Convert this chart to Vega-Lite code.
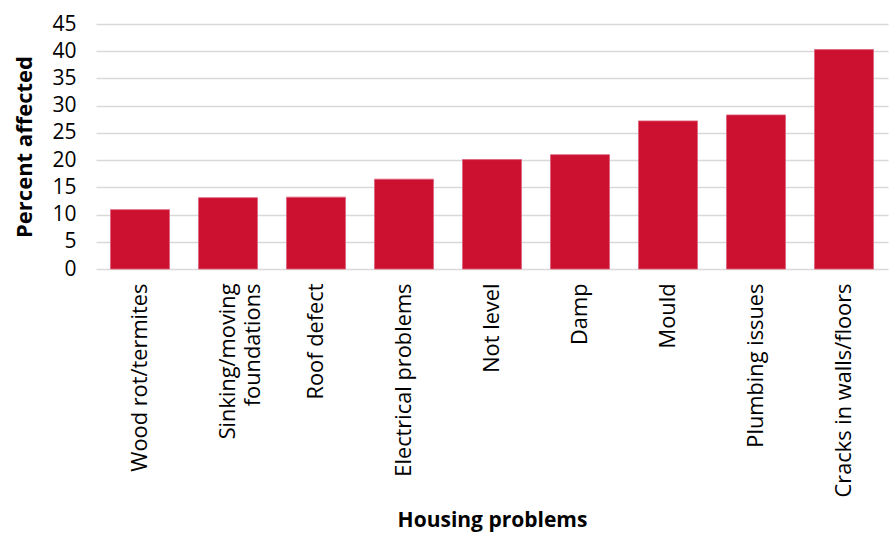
{
  "$schema": "https://vega.github.io/schema/vega-lite/v6.json",
  "width": 792,
  "height": 245,
  "autosize": {"type": "none"},
  "padding": {"left": 96, "top": 24, "right": 2, "bottom": 265},
  "background": "white",
  "data": {"values": [
    {"problem": "Wood rot/termites", "pct": 10.9},
    {"problem": "Sinking/moving foundations", "pct": 13.1},
    {"problem": "Roof defect", "pct": 13.2},
    {"problem": "Electrical problems", "pct": 16.5},
    {"problem": "Not level", "pct": 20.1},
    {"problem": "Damp", "pct": 21.0},
    {"problem": "Mould", "pct": 27.2},
    {"problem": "Plumbing issues", "pct": 28.3},
    {"problem": "Cracks in walls/floors", "pct": 40.3}
  ]},
  "mark": {"type": "bar", "color": "#cc1030", "stroke": "#e0607a", "strokeWidth": 0.8},
  "encoding": {
    "x": {
      "field": "problem", "type": "nominal", "sort": null,
      "scale": {"paddingInner": 0.33, "paddingOuter": 0.165},
      "axis": {
        "title": "Housing problems",
        "titleFont": "Open Sans", "titleFontSize": 21, "titleFontWeight": "bold", "titleColor": "#000",
        "titleY": 240, "titleBaseline": "top",
        "labelAngle": -90, "labelFont": "Open Sans", "labelFontSize": 21.8, "labelColor": "#000",
        "labelPadding": 14, "labelLimit": 300, "labelLineHeight": 25,
        "labelExpr": "datum.value == 'Sinking/moving foundations' ? ['Sinking/moving', 'foundations'] : datum.value",
        "ticks": false, "domain": false, "grid": false
      }
    },
    "y": {
      "field": "pct", "type": "quantitative",
      "scale": {"domain": [0, 45]},
      "axis": {
        "title": "Percent affected",
        "titleFont": "Open Sans", "titleFontSize": 22, "titleFontWeight": "bold", "titleColor": "#000",
        "titlePadding": 15,
        "values": [0, 5, 10, 15, 20, 25, 30, 35, 40, 45],
        "labelFont": "Open Sans", "labelFontSize": 21, "labelColor": "#000", "labelPadding": 20,
        "ticks": false, "domain": false,
        "grid": true, "gridColor": "#d9d9d9", "gridWidth": 1.5
      }
    }
  },
  "config": {"view": {"stroke": null}}
}
